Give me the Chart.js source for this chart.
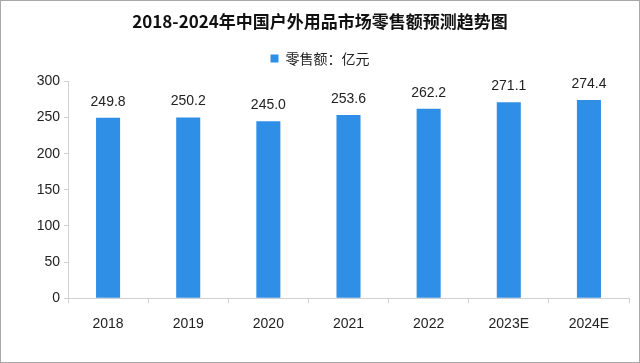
<!DOCTYPE html>
<html>
<head>
<meta charset="utf-8">
<script src="https://cdn.jsdelivr.net/npm/chart.js@4"></script>
<style>
  html, body { margin: 0; padding: 0; background: #fff; }
  #wrap { width: 640px; height: 363px; box-sizing: border-box; border: 1px solid #a8a8a8; }
</style>
</head>
<body>
<div id="wrap"><canvas id="chart" width="638" height="361"></canvas></div>
<script>
const years = ["2018", "2019", "2020", "2021", "2022", "2023E", "2024E"];
const retailSales = [249.8, 250.2, 245.0, 253.6, 262.2, 271.1, 274.4];
const yTicks = [0, 50, 100, 150, 200, 250, 300];

// labels above each bar
const barLabels = {
  id: 'barLabels',
  afterDatasetsDraw(chart) {
    const ctx = chart.ctx;
    ctx.save();
    ctx.font = '14px "Liberation Sans", sans-serif';
    ctx.fillStyle = '#222';
    ctx.textAlign = 'center';
    ctx.textBaseline = 'middle';
    chart.getDatasetMeta(0).data.forEach((bar, i) => {
      ctx.fillText(retailSales[i].toFixed(1), bar.x, bar.y - 16);
    });
    ctx.restore();
  }
};

new Chart(document.getElementById('chart'), {
  type: 'bar',
  data: {
    labels: years,
    datasets: [{
      label: '零售额：亿元',
      data: retailSales,
      backgroundColor: '#2f8fe6',
      barPercentage: 0.3,
      categoryPercentage: 1.0
    }]
  },
  options: {
    responsive: false,
    animation: false,
    layout: { padding: { left: 10, right: 10, bottom: 16 } },
    plugins: {
      title: {
        display: true,
        text: '2018-2024年中国户外用品市场零售额预测趋势图',
        color: '#111',
        font: { family: '"Noto Sans CJK SC", sans-serif', size: 17, weight: 'bold' },
        padding: { top: 10, bottom: 10 }
      },
      // blank spacer between legend and plot
      subtitle: {
        display: true,
        text: ' ',
        weight: 500,
        font: { size: 5 },
        padding: 0
      },
      legend: {
        display: true,
        labels: {
          color: '#222',
          boxWidth: 8,
          boxHeight: 8,
          font: { family: '"Noto Sans CJK SC", sans-serif', size: 14 }
        }
      },
      tooltip: { enabled: false }
    },
    scales: {
      y: {
        min: 0,
        max: 300,
        afterBuildTicks(axis) { axis.ticks = yTicks.map(v => ({ value: v })); },
        afterFit(axis) { axis.width = 57; },
        ticks: { color: '#222', font: { family: '"Liberation Sans", sans-serif', size: 14 }, padding: 4 },
        grid: { drawOnChartArea: false, drawTicks: true, tickLength: 4, color: '#d0d0d0' },
        border: { color: '#d0d0d0' }
      },
      x: {
        ticks: { color: '#222', font: { family: '"Liberation Sans", sans-serif', size: 14 }, padding: 13 },
        grid: { drawOnChartArea: false, drawTicks: true, tickLength: 5, color: '#d0d0d0', offset: true },
        border: { color: '#d0d0d0' }
      }
    }
  },
  plugins: [barLabels]
});
</script>
</body>
</html>
